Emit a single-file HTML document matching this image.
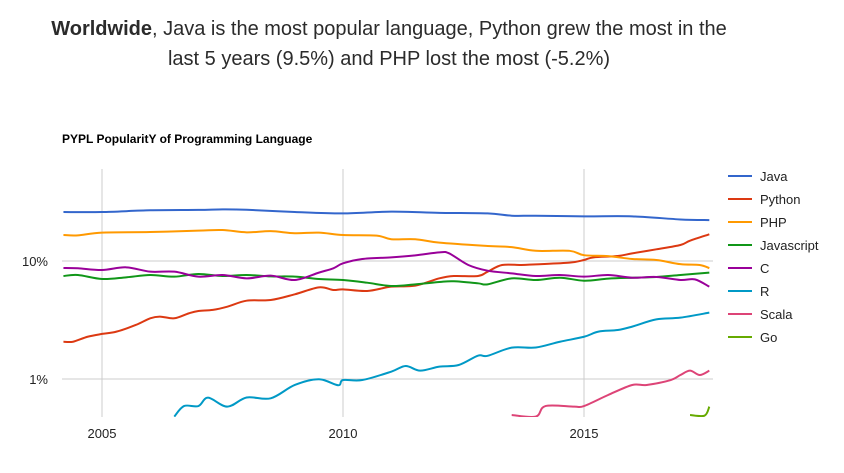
<!DOCTYPE html>
<html><head><meta charset="utf-8"><style>
body{margin:0;width:844px;height:473px;background:#fff;overflow:hidden;font-family:"Liberation Sans",Arial,sans-serif}
#head{position:absolute;left:0;top:14px;width:778px;text-align:center;font-size:20px;line-height:30px;color:#2b2b2b}
</style></head><body>
<div id="head"><b>Worldwide</b>, Java is the most popular language, Python grew the most in the<br>last 5 years (9.5%) and PHP lost the most (-5.2%)</div>
<svg id="chart" width="844" height="473" style="position:absolute;left:0;top:0"></svg>
<script>
const seriesNames=["Java","Python","PHP","Javascript","C","R","Scala","Go"];
const seriesColors=["#3366cc","#dc3912","#ff9900","#109618","#990099","#0099c6","#dd4477","#66aa00"];
const javaYears=[2004.2,2005,2006,2007,2007.5,2008,2009,2010,2011,2012,2013,2013.5,2014,2015,2016,2017,2017.6];
const javaVals=[26.0,26.0,26.9,27.1,27.4,27.2,26.0,25.3,26.2,25.6,25.3,24.2,24.2,23.9,23.9,22.5,22.2];
const phpYears=[2004.2,2004.5,2005,2006,2007,2007.5,2008,2008.5,2009,2009.5,2010,2010.7,2011,2011.5,2012,2013,2013.5,2014,2014.7,2015,2015.5,2016,2016.5,2017,2017.4,2017.6];
const phpVals=[16.6,16.5,17.4,17.6,18.1,18.3,17.5,17.9,17.2,17.4,16.6,16.4,15.3,15.3,14.3,13.4,13.1,12.2,12.2,11.2,11.0,10.4,10.2,9.4,9.25,8.7];
const pyYears=[2004.2,2004.4,2004.7,2005,2005.3,2005.7,2006,2006.2,2006.5,2006.8,2007,2007.3,2007.6,2008,2008.5,2009,2009.5,2009.8,2010,2010.5,2011,2011.5,2012,2012.3,2012.8,2013,2013.3,2013.7,2014,2014.7,2015,2015.2,2015.7,2016,2016.5,2017,2017.2,2017.6];
const pyVals=[2.07,2.07,2.28,2.41,2.52,2.87,3.27,3.38,3.27,3.60,3.77,3.85,4.10,4.61,4.67,5.22,5.98,5.68,5.75,5.57,6.06,6.18,7.13,7.46,7.46,8.12,9.25,9.25,9.37,9.68,10.2,10.74,11.03,11.61,12.56,13.67,14.87,16.83];
const cYears=[2004.2,2004.5,2005,2005.5,2006,2006.5,2007,2007.5,2008,2008.5,2009,2009.5,2009.8,2010,2010.4,2011,2011.5,2012,2012.2,2012.6,2013,2013.5,2014,2014.5,2015,2015.5,2016,2016.5,2017,2017.3,2017.6];
const cVals=[8.73,8.68,8.39,8.84,8.12,8.12,7.37,7.61,7.13,7.51,6.90,7.97,8.68,9.55,10.4,10.74,11.17,11.84,11.61,9.25,8.28,7.86,7.46,7.61,7.37,7.61,7.22,7.32,6.90,6.99,6.06];
const jsYears=[2004.2,2004.5,2005,2005.5,2006,2006.5,2007,2007.5,2008,2008.5,2009,2009.5,2010,2010.5,2011,2011.5,2012,2012.3,2012.8,2013,2013.5,2014,2014.5,2015,2015.5,2016,2016.5,2017,2017.6];
const jsVals=[7.46,7.61,7.04,7.27,7.61,7.37,7.76,7.46,7.61,7.41,7.37,7.04,6.90,6.55,6.14,6.34,6.64,6.73,6.47,6.34,7.13,6.90,7.22,6.81,7.09,7.22,7.32,7.61,7.97];
const rYears=[2006.5,2006.7,2007,2007.2,2007.6,2008,2008.5,2009,2009.5,2009.9,2010,2010.4,2011,2011.3,2011.6,2012,2012.4,2012.8,2013,2013.5,2014,2014.5,2015,2015.3,2015.7,2016,2016.5,2017,2017.6];
const rVals=[0.48,0.59,0.59,0.695,0.583,0.697,0.686,0.89,0.994,0.886,0.98,0.98,1.154,1.289,1.177,1.272,1.314,1.577,1.572,1.844,1.85,2.07,2.28,2.52,2.60,2.78,3.20,3.31,3.65];
const scalaYears=[2013.5,2014,2014.2,2014.8,2015,2015.5,2016,2016.3,2016.8,2017,2017.2,2017.4,2017.6];
const scalaVals=[0.495,0.48,0.59,0.583,0.59,0.732,0.89,0.89,0.98,1.081,1.177,1.081,1.177];
const goYears=[2017.2,2017.5,2017.6];
const goVals=[0.495,0.489,0.583];
const xTicks=[2005,2010,2015];
const yTicks=[1,10];
const yTickLabels=["1%","10%"];

const NS="http://www.w3.org/2000/svg";
const svg=document.getElementById('chart');
const L=62,R=713,T=169,B=417;
const x=yr=>L+(yr-2004.17)*48.2;
const y=v=>261-(Math.log10(v)-1)*118;
function mk(t,a,p){const e=document.createElementNS(NS,t);for(const k in a)e.setAttribute(k,a[k]);(p||svg).appendChild(e);return e;}
const defs=mk('defs',{});const cp=mk('clipPath',{id:'pc'},defs);mk('rect',{x:L,y:T,width:R-L,height:B-T},cp);
xTicks.forEach(t=>{const l=mk('line',{x1:x(t),x2:x(t),y1:T,y2:B,stroke:'#ccc'});


const tx=mk('text',{x:x(t),y:438,'text-anchor':'middle','font-size':13,fill:'#222'});tx.textContent=t;

});
yTicks.forEach((t,i)=>{const l=mk('line',{x1:L,x2:R,y1:y(t),y2:y(t),stroke:'#ccc'});


const tx=mk('text',{x:48,y:y(t)+5,'text-anchor':'end','font-size':13,fill:'#222'});tx.textContent=yTickLabels[i];

});
const title=mk('text',{x:62,y:143,'font-size':12,'font-weight':'bold',fill:'#000'});title.textContent='PYPL PopularitY of Programming Language';


function path(xs,vs){const p=xs.map((t,i)=>[x(t),y(vs[i])]);let d='M'+p[0][0]+','+p[0][1];
for(let i=0;i<p.length-1;i++){const p0=p[i-1]||p[i],p1=p[i],p2=p[i+1],p3=p[i+2]||p2;
d+=` C${p1[0]+(p2[0]-p0[0])/6},${p1[1]+(p2[1]-p0[1])/6} ${p2[0]-(p3[0]-p1[0])/6},${p2[1]-(p3[1]-p1[1])/6} ${p2[0]},${p2[1]}`;}return d;}
const all=[[javaYears,javaVals],[pyYears,pyVals],[phpYears,phpVals],[jsYears,jsVals],[cYears,cVals],[rYears,rVals],[scalaYears,scalaVals],[goYears,goVals]];
const g=mk('g',{'clip-path':'url(#pc)'});
all.forEach((s,i)=>{const pth=mk('path',{d:path(s[0],s[1]),fill:'none',stroke:seriesColors[i],'stroke-width':2},g);


const ly=176+i*23;
const lg=mk('g',{});


mk('line',{x1:728,x2:752,y1:ly,y2:ly,stroke:seriesColors[i],'stroke-width':2},lg);
const t=mk('text',{x:760,y:ly+5,'font-size':13,fill:'#222'},lg);t.textContent=seriesNames[i];});
</script>
</body></html>
